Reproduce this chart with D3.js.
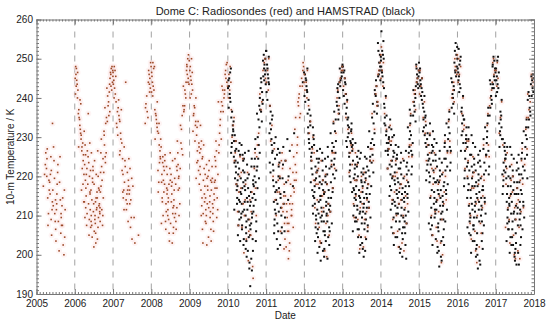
<!DOCTYPE html>
<html>
<head>
<script src="https://d3js.org/d3.v7.min.js"></script>
<style>
  body { margin: 0; background: #fff; }
  svg { display: block; font-family: "Liberation Sans", Arial, Helvetica, sans-serif; }
  .axis path { stroke: #777; }
  .axis line { stroke: #777; }
  .axis text { font-size: 10px; fill: #222; }
</style>
</head>
<body>
<div id="chart"></div>
<script>
// tick labels
const years = d3.range(2005, 2019);
const tempTicks = [190, 200, 210, 220, 230, 240, 250, 260];

// 10-m temperature (K), one array per month (Jan..Dec)
// Radiosondes (red)
const red2005 = [[], [], [226, 220.5, 217.5, 223],
  [224.5, 219, 214.5, 222, 210.5, 227, 216.5, 207.5, 220],
  [221.5, 215.5, 211.5, 225, 218.5, 205, 220.5, 213.5, 209],
  [233.5, 219.5, 212.5, 208.5, 224, 216.5, 210.5, 227.5, 214],
  [215.5, 206.5, 221, 211.5, 208.5, 218, 203.5, 223, 213],
  [209.5, 225, 212.5, 205.5, 218.5, 207.5, 214, 201, 210.5],
  [207.5, 216.5, 202.5, 211.5, 200, 214.5, 204.5], [], [], []];
const red2006 = [[248, 246.5, 247.5, 245, 243.5, 246, 242, 244.5, 241, 240, 243],
  [239.5, 237, 238.5, 234.5, 236, 232, 235, 229.5, 233, 227.5, 231],
  [230.5, 224, 227.5, 220.5, 228.5, 216.5, 225.5, 222, 231.5, 218, 226.5, 213.5],
  [225.5, 213.5, 220.5, 228, 210.5, 217, 223, 207.5, 219, 226.5, 215, 209.5, 222, 212],
  [216, 223.5, 207, 220, 236, 211.5, 205, 218, 228.5, 213, 221.5, 209, 225, 215.5],
  [208.5, 221.5, 214, 202, 218.5, 226, 211, 204.5, 216.5, 222.5, 207.5, 213, 219.5, 210],
  [213.5, 206, 220.5, 210, 216, 203, 224, 211.5, 208, 218, 214.5, 209, 212, 205.5],
  [210.5, 217, 204, 213, 220, 208.5, 212.5, 226.5, 211, 209.5, 214.5, 216.5, 207, 212],
  [217.5, 224.5, 211.5, 221, 207.5, 229.5, 214.5, 219, 226, 210, 222.5, 216],
  [223.5, 230.5, 226, 237.5, 221, 233.5, 228, 235, 225, 231.5],
  [236.5, 239, 234, 241.5, 238, 242.5, 235.5, 240.5, 243.5],
  [243, 245.5, 242, 246.5, 244, 247.5, 245, 248, 246, 247]];
const red2007 = [[248, 246.5, 247, 244.5, 245.5, 242.5, 243.5, 241, 240, 239],
  [239.5, 236.5, 234.5, 237.5, 232.5, 235.5, 230.5, 233.5],
  [234, 228.5, 231, 224.5, 237, 226.5, 221.5, 229.5, 225.5],
  [227.5, 220.5, 224, 216.5, 244, 218.5, 214.5, 222.5, 211.5, 216],
  [217.5, 221, 214, 208.5, 215.5, 224.5, 216.5, 211.5, 219, 213],
  [213, 219.5, 207, 215.5, 209.5, 222, 204, 214, 216.5],
  [209.5, 217.5, 203], [205], [], [],
  [233.5, 236.5, 238.5, 235, 240.5, 237.5],
  [241.5, 244, 242.5, 246, 248, 245, 247, 249, 243.5]];
const red2008 = [[249, 246.5, 247.5, 244, 248, 243, 245.5, 242, 240.5, 241.5],
  [239, 235.5, 237, 233.5, 236, 231.5, 234.5, 229.5, 232.5],
  [231, 224.5, 228, 221.5, 226.5, 218.5, 229.5, 223.5, 216, 225, 233.5],
  [225, 218.5, 222.5, 213.5, 227.5, 210, 220.5, 216, 223.5, 208, 219, 214.5],
  [220.5, 213, 224, 217, 208.5, 221.5, 211, 225.5, 215.5, 206.5, 218, 222.5],
  [214.5, 219, 205.5, 211.5, 222, 209, 216.5, 203.5, 213.5, 226, 218, 210],
  [210.5, 217.5, 207, 203, 220.5, 212, 215.5, 208, 224, 213.5, 205.5, 218.5],
  [214, 208.5, 219.5, 222.5, 210.5, 216.5, 206.5, 224.5, 212.5, 218, 209.5],
  [216.5, 221.5, 210, 226, 213, 219.5, 229, 217, 223, 212, 220],
  [225.5, 232, 222, 235.5, 228.5, 238, 227, 233],
  [236.5, 240, 238, 243, 241, 237, 244, 242],
  [245, 248, 243.5, 250, 247, 251, 246, 249.5, 244, 248.5]];
const red2009 = [[250, 248, 246.5, 244.5, 247, 243.5, 245.5, 242, 241, 240],
  [240, 237.5, 235.5, 233, 238, 231.5, 229, 236, 234],
  [232.5, 227.5, 224, 230.5, 221.5, 226.5, 219.5, 234, 223.5, 228.5],
  [229, 220.5, 224.5, 216.5, 226, 212.5, 233, 218, 210, 222.5, 214.5, 227],
  [225, 213.5, 219, 208.5, 222, 203, 217.5, 228, 206.5, 215.5, 210.5, 220.5],
  [219.5, 211.5, 216.5, 223, 204.5, 213, 208, 220, 202.5, 214.5, 217.5, 210],
  [216.5, 209.5, 221.5, 206.5, 213.5, 218.5, 211, 224, 203.5, 215, 212, 219],
  [213, 218.5, 208.5, 222.5, 215.5, 210.5, 225, 206, 219.5, 214, 212, 217],
  [217, 222.5, 211.5, 226.5, 219, 214.5, 229, 220.5, 209.5, 224],
  [229.5, 233, 226, 236.5, 231, 239, 234.5, 228],
  [238, 241, 236.5, 243, 240, 242, 239],
  [244, 247, 243, 248.5, 246, 249, 245, 242]];
const red2010 = [[248, 246, 244, 242, 240], [237, 233, 230, 235], [229, 224, 218, 226],
  [225, 216, 211, 220, 207.5], [221, 213, 207, 217, 224.5], [218, 210, 204, 214, 200.5],
  [214, 206, 221, 209, 198.5], [211, 194, 216, 205, 197], [217, 222, 210, 226],
  [225, 231, 228], [237, 241, 239], [245, 249, 247, 250]];
const red2011 = [[250, 247, 244, 242], [238, 233, 229], [227, 220, 214],
  [223, 216, 210, 219], [220, 212, 206, 216, 224],
  [218, 211, 204, 215, 222, 208, 213, 226, 201.5],
  [215, 208, 202, 219, 211, 224, 206, 213, 199, 209.5],
  [213, 206, 218, 201, 210, 222, 208, 215, 203, 211.5],
  [216, 221, 210, 225, 213, 219, 207, 228, 217],
  [223, 228, 219, 232, 226, 235, 230, 221],
  [235, 238, 236, 241, 239, 243, 240],
  [244, 247, 245, 248, 243, 246, 249]];
const red2012 = [[247, 244, 242, 240], [238, 234, 231], [230, 224, 219, 227],
  [226, 218, 212, 221, 208], [222, 214, 207, 218, 203.5], [219, 211, 203, 215, 224],
  [216, 208, 201, 212, 220.5], [213, 218, 205, 210, 199.5], [217, 223, 211, 226],
  [226, 231, 222, 234], [236, 240, 238, 242], [244, 247, 245, 248]];
const red2013 = [[247, 245, 243, 241], [239, 235, 232], [231, 226, 221, 228],
  [227, 219, 213, 223, 209.5], [223, 215, 209, 219, 226], [220, 212, 205, 216, 201.5],
  [217, 209, 202, 213, 221], [214, 219, 207, 211, 204.5], [218, 224, 212, 227],
  [227, 232, 224, 236], [238, 241, 239, 243], [246, 249, 247, 251]];
const red2014 = [[253, 249, 247, 245, 243], [240, 236, 232], [233, 227, 222, 229],
  [229, 220, 214, 224, 209], [224, 216, 210, 220, 205.5], [221, 213, 206, 217, 202],
  [218, 210, 203, 214, 224.5], [215, 220, 208, 212, 201], [219, 225, 213, 228],
  [228, 233, 225, 236], [237, 241, 239, 242], [244, 247, 245, 248]];
const red2015 = [[247, 245, 243, 241], [239, 235, 231], [234, 228, 224],
  [231, 222, 215, 226, 210], [226, 218, 211, 221, 205], [222, 214, 207, 218, 203.5],
  [219, 211, 203, 215, 198], [216, 221, 209, 213, 200], [220, 226, 214, 229],
  [229, 234, 226, 237], [239, 242, 240, 244], [248, 251, 247, 250, 246]];
const red2016 = [[250, 248, 246, 244], [240, 236, 232], [233, 227, 222, 229],
  [229, 220, 213, 224, 208], [225, 217, 210, 220, 204], [221, 213, 206, 217, 201],
  [218, 210, 202, 214, 198], [215, 220, 208, 212, 205.5], [219, 225, 213, 228],
  [228, 233, 225, 236], [238, 242, 240, 244], [246, 249, 247, 250]];
const red2017 = [[249, 247, 245, 243], [239, 235, 231], [228, 224, 220],
  [226, 218, 212, 222, 207], [223, 215, 209, 219, 203], [220, 212, 205, 216, 200],
  [217, 209, 201, 213, 199], [214, 219, 207, 211, 199], [218, 224, 212, 227],
  [227, 232, 223, 235], [235, 239, 237, 241], [243, 246, 244, 245]];

// HAMSTRAD (black)
const black2010 = [[246.5, 243, 247.5, 241, 244.5, 239, 245, 242.5, 240, 237.5],
  [235, 231.5, 236.5, 229, 233, 227.5, 234, 230.5, 226, 232, 228.5, 225],
  [229, 223.5, 218, 226.5, 214.5, 221, 230.5, 216.5, 224, 211.5, 227, 219.5, 213, 222.5],
  [225.5, 211, 219, 228.5, 207.5, 216, 222, 205, 213.5, 226.5, 217.5, 209, 220.5, 203.5, 214, 223.5],
  [215.5, 224, 206.5, 219.5, 211, 228, 202.5, 217, 209.5, 221.5, 213, 204, 225.5, 210.5, 218.5, 207.5],
  [210, 221, 203.5, 216.5, 224.5, 207, 213.5, 199.5, 219, 211.5, 205.5, 226, 214.5, 201.5, 217.5, 208.5],
  [212.5, 204.5, 219.5, 198, 209, 223, 215, 201, 207.5, 226.5, 211.5, 196.5, 217, 205, 220.5, 213.5],
  [208, 219, 196, 213.5, 204, 222.5, 192, 210.5, 216, 201, 224.5, 206.5, 214.5, 199, 218, 209.5],
  [214, 222.5, 208.5, 227, 217.5, 203.5, 220, 211, 229.5, 215.5, 206, 224.5, 212.5, 218.5],
  [221.5, 228, 217, 232.5, 224.5, 236, 219.5, 230, 226, 234.5, 222.5, 238],
  [236.5, 240, 234, 242.5, 238.5, 244, 237, 241.5, 245, 239.5],
  [247, 244.5, 249.5, 246, 251, 243.5, 248.5, 245.5, 250, 247.5, 252]];
const black2011 = [[250.5, 247.5, 252, 245, 248.5, 243.5, 246, 241.5, 244, 239.5],
  [238, 234.5, 236.5, 231, 229.5, 233.5, 226, 232, 223.5, 228, 221, 235.5],
  [228.5, 219, 224.5, 213.5, 226.5, 209, 221.5, 216, 205.5, 223, 211.5, 217.5, 230, 207.5],
  [222.5, 213, 218.5, 206, 225.5, 210.5, 201.5, 216.5, 220, 208, 214, 227, 204, 211],
  [219.5, 207, 214.5, 223.5, 210, 202.5, 217, 212, 226, 205.5, 215.5],
  [216, 223, 209.5, 213, 219.5, 206, 227.5],
  [224, 229.5, 218.5, 214], [226.5, 220], [231, 217.5], [], [], [246.5, 244]];
const black2012 = [[247.5, 244.5, 246, 242, 245, 240.5, 243, 239, 241.5],
  [239.5, 235.5, 237, 232.5, 234, 229.5, 236, 227, 231, 233, 228.5],
  [232.5, 226, 229.5, 220.5, 224, 215, 227.5, 218.5, 212.5, 222, 230.5, 216.5, 225, 210.5],
  [228, 219.5, 213, 224.5, 207, 216, 221, 203.5, 226.5, 210, 217.5, 205.5, 222.5, 214.5, 209, 219],
  [223.5, 211.5, 217, 204.5, 227, 213.5, 200.5, 220, 208, 215, 224.5, 206.5, 218.5, 210.5, 221.5, 202],
  [219, 208.5, 214, 224, 203, 216.5, 210, 198.5, 221.5, 212, 206, 226, 215, 201, 218, 209.5],
  [215.5, 222.5, 206, 211, 218.5, 201.5, 213.5, 224.5, 208.5, 203.5, 216, 210, 220, 199.5, 212.5, 205],
  [213, 220.5, 207, 225, 210.5, 216.5, 199, 222, 204.5, 218, 211.5, 227.5, 206, 214.5, 208.5, 202.5],
  [217, 224, 211, 228.5, 214.5, 220.5, 208, 231, 216, 222.5, 212.5, 226.5, 218.5],
  [223, 229, 219.5, 233.5, 226, 236.5, 221.5, 231.5, 227.5, 234.5, 224.5],
  [234.5, 238, 236, 241.5, 239, 237, 242.5, 240, 243.5],
  [244, 246.5, 243, 248, 245, 247.5, 245.5, 244.5, 248.5]];
const black2013 = [[248, 245, 246.5, 243.5, 247, 242, 244, 240.5, 241, 238.5],
  [239.5, 236, 233, 237.5, 231, 234.5, 229, 235, 227.5, 232.5, 230],
  [233.5, 229, 225, 231.5, 221.5, 227.5, 218.5, 226, 232, 223, 216, 228.5, 220],
  [229.5, 222, 217, 226.5, 212.5, 224, 208.5, 219.5, 228, 214.5, 210, 223, 216.5, 206, 220.5],
  [225, 214, 220, 208.5, 228.5, 211.5, 217.5, 204.5, 222.5, 215.5, 206.5, 219, 226.5, 212.5, 209.5, 223.5],
  [221, 211, 216.5, 204.5, 224.5, 208, 213.5, 200.5, 219, 214.5, 206.5, 226, 210.5, 218.5, 202.5, 215],
  [217.5, 208, 222, 203, 214.5, 211, 225, 199.5, 216, 206.5, 220.5, 209.5, 213, 201.5, 218.5, 212],
  [214.5, 221, 207.5, 224.5, 210.5, 217, 204, 227.5, 212, 219.5, 206, 215.5, 201, 222.5, 209],
  [218, 225, 212, 228.5, 215.5, 221.5, 209.5, 231.5, 217.5, 224, 213.5, 227, 220],
  [225.5, 231, 221, 235, 228, 238.5, 223.5, 233.5, 229.5, 236.5],
  [236, 240.5, 238, 243, 241, 239, 244.5, 242],
  [245.5, 248, 246, 250.5, 247, 252, 244.5, 249, 254, 251]];
const black2014 = [[257, 254.5, 252, 249.5, 251, 247, 250, 245.5, 248, 244, 246.5, 242.5],
  [240.5, 237.5, 235.5, 233, 238.5, 230.5, 235, 228.5, 226.5, 233.5, 231.5],
  [234.5, 230, 226.5, 223, 228.5, 220.5, 232.5, 225.5, 217.5, 229.5, 222, 215, 227],
  [232, 225, 219.5, 228, 214, 222.5, 209.5, 230, 216.5, 205.5, 224, 211.5, 220, 207, 226.5, 213],
  [228, 219, 224.5, 212.5, 230.5, 208.5, 221, 215.5, 204.5, 226, 210.5, 218, 202.5, 223, 213.5, 216.5],
  [224.5, 213, 219.5, 208.5, 227.5, 204.5, 216, 210.5, 200.5, 222, 212, 206.5, 218.5, 225.5, 202, 214.5],
  [220.5, 209.5, 215.5, 223.5, 204, 212, 218, 199.5, 226, 207, 214, 201.5, 217, 210, 222, 205.5],
  [217.5, 211.5, 222.5, 205.5, 214.5, 226.5, 208.5, 219.5, 202.5, 213.5, 199, 216, 224, 210, 207],
  [220.5, 226, 214.5, 229.5, 211, 223.5, 217.5, 232.5, 208, 221.5, 215.5, 227.5, 218.5],
  [226.5, 231.5, 222.5, 235.5, 228.5, 220.5, 233.5, 225.5, 230.5, 237],
  [234, 238, 235.5, 241, 239, 243, 236.5, 242, 240],
  [244, 247, 245, 248.5, 242.5, 246, 249, 243.5, 247.5, 245.5]];
const black2015 = [[247.5, 245, 243.5, 246.5, 242.5, 244.5, 241.5, 240.5, 243, 239.5],
  [240.5, 237.5, 235, 232.5, 238.5, 230.5, 234.5, 228.5, 236.5, 231.5],
  [235.5, 231, 227.5, 224, 229.5, 233, 225.5, 221.5, 228, 223, 219],
  [233.5, 228, 223, 218.5, 226, 214.5, 221, 209.5, 230.5, 216.5, 206.5, 224.5, 212, 220, 208],
  [229.5, 224, 218.5, 213, 226.5, 209.5, 221.5, 205, 216, 231.5, 211.5, 219.5, 202.5, 214.5, 227.5, 207.5],
  [225.5, 219, 213.5, 208, 222.5, 204, 216.5, 228.5, 210.5, 200.5, 218.5, 207, 214, 224, 202, 211.5],
  [221.5, 215.5, 209, 224.5, 203.5, 212.5, 218.5, 199.5, 226.5, 206, 214.5, 197, 210.5, 220, 201, 216.5],
  [218.5, 212.5, 223.5, 206.5, 215, 227.5, 209, 220.5, 202.5, 213.5, 198.5, 217.5, 211, 224.5, 204.5],
  [221.5, 226.5, 215.5, 230.5, 211.5, 224.5, 218, 233.5, 208.5, 222.5, 216.5, 228.5],
  [227.5, 232.5, 223.5, 236.5, 229.5, 221.5, 234.5, 226.5, 231],
  [236, 240, 237.5, 243, 241, 245, 238.5, 244, 242],
  [246.5, 250, 245.5, 252, 248, 254, 249, 251, 247, 253]];
const black2016 = [[252.5, 250.5, 248.5, 246.5, 249.5, 245.5, 247.5, 243.5, 244.5, 242.5, 241.5],
  [240.5, 237.5, 234.5, 231.5, 236.5, 228.5, 233.5, 226.5, 235.5, 230.5],
  [234.5, 230.5, 226.5, 222.5, 228.5, 219.5, 232.5, 224.5, 217.5, 229.5, 221.5],
  [232.5, 227.5, 221.5, 216.5, 225.5, 212.5, 219.5, 208.5, 229.5, 214.5, 205.5, 223.5, 210.5, 218, 207],
  [228.5, 222.5, 216.5, 211.5, 225.5, 207.5, 219.5, 214.5, 203.5, 230.5, 209.5, 217.5, 200.5, 221, 213, 205],
  [224.5, 218.5, 212.5, 207.5, 221.5, 203.5, 215.5, 227.5, 209.5, 199.5, 217.5, 206.5, 213.5, 223, 201.5, 211],
  [220.5, 214.5, 208.5, 223.5, 202.5, 211.5, 217.5, 198.5, 225.5, 205.5, 213.5, 196.5, 209.5, 219, 200, 216],
  [217.5, 211.5, 222.5, 205.5, 214.5, 226.5, 208.5, 219.5, 201.5, 212.5, 197.5, 216.5, 210, 224, 203.5],
  [220.5, 225.5, 213.5, 229.5, 210.5, 223.5, 216.5, 232.5, 207.5, 221.5, 214.5, 227],
  [226.5, 231.5, 222.5, 235.5, 228.5, 220.5, 233.5, 225.5, 237.5, 230],
  [235.5, 239.5, 237.5, 242.5, 240.5, 244.5, 238.5, 243.5],
  [245.5, 248.5, 244.5, 250.5, 246.5, 249.5, 243.5, 247.5, 242.5, 248]];
const black2017 = [[249.5, 247.5, 250.5, 245.5, 246.5, 243.5, 244.5, 242.5, 241.5, 240.5],
  [239.5, 236.5, 233.5, 235.5, 231.5, 229.5, 234.5, 227.5, 232.5, 230.5],
  [229.5, 226.5, 223.5, 220.5, 227.5, 217.5, 224.5, 221.5, 215.5, 228.5, 219],
  [227.5, 222.5, 217.5, 213.5, 224.5, 209.5, 219.5, 206.5, 215.5, 225.5, 211.5, 203.5, 221, 208],
  [225.5, 219.5, 214.5, 210.5, 222.5, 206.5, 217.5, 212.5, 202.5, 227.5, 208.5, 215.5, 200.5, 220, 204.5, 213],
  [221.5, 215.5, 210.5, 206.5, 218.5, 202.5, 213.5, 224.5, 208.5, 199.5, 216.5, 204.5, 211, 220, 200.5],
  [218.5, 212.5, 207.5, 221.5, 201.5, 210.5, 215.5, 198.5, 223.5, 205.5, 212, 197.5, 209, 217, 203],
  [215.5, 210.5, 220.5, 204.5, 213.5, 225.5, 207.5, 218.5, 200.5, 211.5, 197.5, 216.5, 209, 222, 202.5],
  [219.5, 224.5, 212.5, 228.5, 209.5, 222.5, 215.5, 231.5, 206.5, 220.5, 213.5, 226],
  [225.5, 230.5, 221.5, 234.5, 227.5, 219.5, 232.5, 224.5, 229.5],
  [232.5, 236.5, 234.5, 239.5, 237.5, 241.5, 235.5, 240.5],
  [242.5, 245.5, 241.5, 244.5, 243.5, 246, 240.5, 245]];

const redYears = [[2005, red2005], [2006, red2006], [2007, red2007], [2008, red2008],
  [2009, red2009], [2010, red2010], [2011, red2011], [2012, red2012], [2013, red2013],
  [2014, red2014], [2015, red2015], [2016, red2016], [2017, red2017]];
const blackYears = [[2010, black2010], [2011, black2011], [2012, black2012], [2013, black2013],
  [2014, black2014], [2015, black2015], [2016, black2016], [2017, black2017]];

// each month's soundings are placed at scattered days inside that month
function toPoints(list) {
  const pts = [];
  list.forEach(([yr, months]) => {
    months.forEach((vals, m) => {
      vals.forEach((v, i) => {
        const day = ((i + 1) * 0.618034 + m * 0.37 + yr * 0.11) % 1;
        pts.push({t: yr + (m + day) / 12, v: v});
      });
    });
  });
  return pts;
}
const redPts = toPoints(redYears);
const blackPts = toPoints(blackYears);

const width = 550, height = 322;
const margin = {top: 19.5, right: 16, bottom: 28, left: 36.5};
const innerW = width - margin.left - margin.right;
const innerH = height - margin.top - margin.bottom;

const svg = d3.select("#chart").append("svg")
  .attr("width", width)
  .attr("height", height);

const g = svg.append("g")
  .attr("transform", `translate(${margin.left},${margin.top})`);

const x = d3.scaleLinear().domain([2005, 2018]).range([0, innerW]);
const y = d3.scaleLinear().domain([190, 260]).range([innerH, 0]);

// dashed year lines
g.selectAll(".yearline")
  .data(years.slice(1, -1))
  .enter().append("line")
  .attr("class", "yearline")
  .attr("x1", d => x(d)).attr("x2", d => x(d))
  .attr("y1", 0).attr("y2", innerH)
  .attr("stroke", "#8a8a8a")
  .attr("stroke-width", 0.8)
  .attr("stroke-dasharray", "6,6");

// faint pink bleed around the radiosonde dots
g.append("g").selectAll("circle")
  .data(redPts)
  .enter().append("circle")
  .attr("cx", d => x(d.t))
  .attr("cy", d => y(d.v))
  .attr("r", 3)
  .attr("fill", "#fbe0e0")
  .attr("opacity", 0.35);

// points
g.append("g").selectAll("rect")
  .data(blackPts)
  .enter().append("rect")
  .attr("x", d => x(d.t) - 1)
  .attr("y", d => y(d.v) - 1)
  .attr("width", 2).attr("height", 2)
  .attr("fill", "#111");

g.append("g").selectAll("rect")
  .data(redPts)
  .enter().append("rect")
  .attr("x", d => x(d.t) - 0.8)
  .attr("y", d => y(d.v) - 0.8)
  .attr("width", 1.6).attr("height", 1.6)
  .attr("fill", "#9c4826");

// axes: major + minor ticks on all four sides, pointing inward
const months = d3.range(2005, 2018.001, 1 / 12);
const kelvins = d3.range(190, 261, 1);

function addX(axisFn, ty) {
  g.append("g").attr("class", "axis")
    .attr("transform", `translate(0,${ty})`)
    .call(axisFn(x).tickValues(months).tickSizeInner(-2).tickSizeOuter(0).tickFormat(""));
  const a = g.append("g").attr("class", "axis")
    .attr("transform", `translate(0,${ty})`)
    .call(axisFn(x).tickValues(years).tickSizeInner(-5).tickSizeOuter(0).tickPadding(6)
      .tickFormat(ty === 0 ? "" : d3.format("d")));
  a.select(".domain").remove();
}
function addY(axisFn, tx) {
  g.append("g").attr("class", "axis")
    .attr("transform", `translate(${tx},0)`)
    .call(axisFn(y).tickValues(kelvins).tickSizeInner(-2.5).tickSizeOuter(0).tickFormat(""));
  const a = g.append("g").attr("class", "axis")
    .attr("transform", `translate(${tx},0)`)
    .call(axisFn(y).tickValues(tempTicks).tickSizeInner(-5).tickSizeOuter(0).tickPadding(3.5)
      .tickFormat(tx === 0 ? d3.format("d") : ""));
  a.select(".domain").remove();
}
addX(d3.axisBottom, innerH);
addX(d3.axisTop, 0);
addY(d3.axisLeft, 0);
addY(d3.axisRight, innerW);

// titles
svg.append("text")
  .attr("x", margin.left + innerW / 2)
  .attr("y", 14.5)
  .attr("text-anchor", "middle")
  .attr("font-size", "11px")
  .attr("fill", "#222")
  .text("Dome C: Radiosondes (red) and HAMSTRAD (black)");

svg.append("text")
  .attr("x", margin.left + innerW / 2)
  .attr("y", 319)
  .attr("text-anchor", "middle")
  .attr("font-size", "10px")
  .attr("fill", "#222")
  .text("Date");

svg.append("text")
  .attr("transform", "rotate(-90)")
  .attr("x", -(margin.top + innerH / 2))
  .attr("y", 14)
  .attr("text-anchor", "middle")
  .attr("font-size", "10px")
  .attr("fill", "#222")
  .text("10-m Temperature / K");
</script>
</body>
</html>
